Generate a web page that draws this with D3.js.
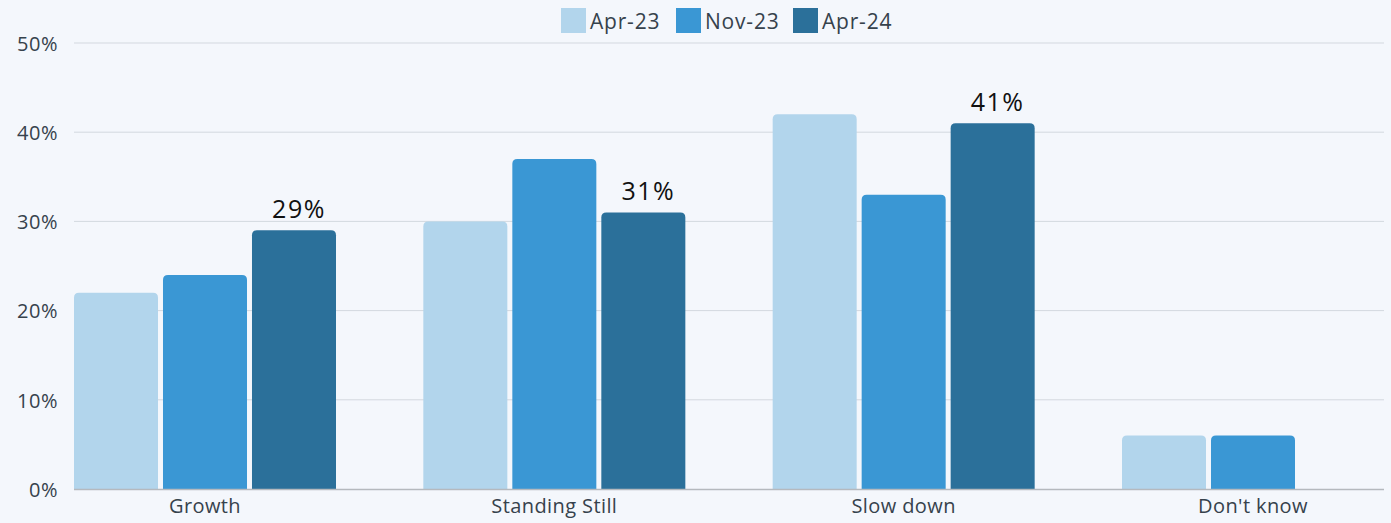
<!DOCTYPE html>
<html>
<head>
<meta charset="utf-8">
<script src="https://cdn.jsdelivr.net/npm/d3@7"></script>
<style>
  html, body { margin: 0; padding: 0; background: #f4f7fc; }
  svg { display: block; font-family: "Open Sans", sans-serif; }
</style>
</head>
<body>
<svg id="chart" width="1391" height="523"></svg>
<script>
const categories = ["Growth", "Standing Still", "Slow down", "Don't know"];
const seriesNames = ["Apr-23", "Nov-23", "Apr-24"];
const apr23 = [22, 30, 42, 6];
const nov23 = [24, 37, 33, 6];
const apr24 = [29, 31, 41, null];
const yTicks = [0, 10, 20, 30, 40, 50];
const colors = ["#b2d5ec", "#3a97d4", "#2b709a"];
const labelSeries = "Apr-24";

const seriesValues = [apr23, nov23, apr24];
const W = 1391, H = 523;
const FONT = "'Open Sans', sans-serif";
const TXT = "#36424c";
const svg = d3.select("#chart");
svg.append("rect").attr("width", W).attr("height", H).attr("fill", "#f4f7fc");

const x0 = d3.scaleBand().domain(categories).range([74, 1384]).paddingInner(0.25).paddingOuter(0);
const x1 = d3.scaleBand().domain(seriesNames).range([0, x0.bandwidth()]).paddingInner(0.056).paddingOuter(0);
const y = d3.scaleLinear().domain([0, 50]).range([489, 43]);

// gridlines
svg.append("g").selectAll("line").data(yTicks.filter(t => t > 0)).join("line")
  .attr("x1", 74).attr("x2", 1384)
  .attr("y1", d => y(d)).attr("y2", d => y(d))
  .attr("stroke", "#d3d8df").attr("stroke-width", 1);

// y axis labels
const yAxis = d3.axisLeft(y).tickValues(yTicks).tickFormat(d => d + "%").tickSize(0).tickPadding(0);
const ya = svg.append("g").attr("transform", "translate(58,0)").call(yAxis);
ya.select(".domain").remove();
ya.selectAll("text").attr("font-size", 20).attr("letter-spacing", 0.5).attr("fill", TXT).attr("font-family", FONT).attr("dy", "0.36em");

// bars
function roundedTop(x, yTop, w, h, r) {
  r = Math.min(r, h, w / 2);
  return `M${x},${yTop + h} L${x},${yTop + r} Q${x},${yTop} ${x + r},${yTop} L${x + w - r},${yTop} Q${x + w},${yTop} ${x + w},${yTop + r} L${x + w},${yTop + h} Z`;
}
const data = [];
categories.forEach((c, i) => {
  seriesNames.forEach((s, j) => {
    const v = seriesValues[j][i];
    if (v != null) data.push({ c, s, v, j });
  });
});
svg.append("g").selectAll("path").data(data).join("path")
  .attr("d", d => roundedTop(x0(d.c) + x1(d.s), y(d.v), x1.bandwidth(), y(0) - y(d.v), 5))
  .attr("fill", d => colors[d.j]);

// baseline
svg.append("line").attr("x1", 74).attr("x2", 1384).attr("y1", y(0) + 0.5).attr("y2", y(0) + 0.5)
  .attr("stroke", "#b5b9be").attr("stroke-width", 1.5);

// value labels
svg.append("g").selectAll("text").data(data.filter(d => d.s === labelSeries)).join("text")
  .attr("x", d => x0(d.c) + x1(d.s) + x1.bandwidth() / 2 + 5)
  .attr("y", d => y(d.v) - 12)
  .attr("text-anchor", "middle")
  .attr("font-family", FONT)
  .attr("font-size", 25).attr("letter-spacing", 1.5).attr("fill", "#111")
  .text(d => d.v + "%");

// x axis labels
const xAxis = d3.axisBottom(x0).tickSize(0).tickPadding(0);
const xa = svg.append("g").attr("transform", `translate(0,${y(0) + 10})`).call(xAxis);
xa.select(".domain").remove();
xa.selectAll("text").attr("font-size", 20).attr("letter-spacing", 0.4).attr("fill", TXT).attr("font-family", FONT).attr("dy", "0.72em");

// legend
const legendX = [561, 676, 793];
const leg = svg.append("g");
seriesNames.forEach((s, i) => {
  leg.append("rect").attr("x", legendX[i]).attr("y", 8).attr("width", 25).attr("height", 25).attr("fill", colors[i]);
  leg.append("text").attr("x", legendX[i] + 29).attr("y", 21).attr("dy", "0.36em")
    .attr("font-family", FONT).attr("letter-spacing", 0.8)
    .attr("font-size", 21).attr("fill", TXT).text(s);
});
</script>
</body>
</html>
